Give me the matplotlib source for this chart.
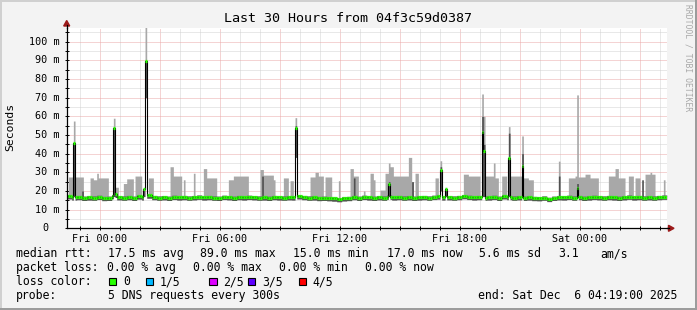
import numpy as np
import matplotlib
matplotlib.use('Agg')
import matplotlib.pyplot as plt
from matplotlib.patches import Rectangle, Polygon
from matplotlib.transforms import offset_copy

plt.rcParams['font.family'] = 'DejaVu Sans Mono'

W, H = 697, 310

# time axis: hours relative to Fri 00:00, 5 minute steps, 22:20 Thu -> 04:20 Sat
T_START = -5.0 / 3.0
T_END = 28.0 + 1.0 / 3.0
STEP = 5.0 / 60.0

# median rtt (ms), one value per 15 minutes
median_15 = [
    17.2, 16.6, 16.8, 16.4, 16.6, 16.5, 16.9, 16.3, 16.4, 17.3, 16.7, 16.5,
    16.8, 16.4, 17.1, 16.6, 17.6, 16.8, 16.5, 16.7, 16.4, 16.9, 16.6, 16.8,
    16.5, 16.7, 17.0, 16.6, 16.8, 16.5, 16.4, 16.9, 16.7, 16.4, 16.8, 16.6,
    16.9, 16.7, 16.5, 16.6, 16.4, 16.8, 16.6, 16.5, 16.7, 16.6, 17.2, 16.8,
    16.5, 16.6, 16.3, 16.4, 16.2, 16.0, 15.7, 16.1, 16.3, 16.8, 16.4, 16.9,
    16.6, 16.4, 16.7, 16.5, 17.0, 16.6, 16.8, 16.5, 16.7, 16.4, 16.6, 16.8,
    16.5, 16.9, 17.1, 16.6, 16.7, 16.5, 16.8, 17.3, 16.9, 16.6, 16.8, 16.5,
    16.6, 16.9, 16.4, 17.2, 16.8, 16.5, 16.7, 16.4, 16.6, 16.3, 16.2, 16.5,
    15.8, 16.4, 16.7, 16.6, 16.9, 16.5, 16.8, 16.4, 16.6, 16.9, 16.7, 16.5,
    16.8, 16.6, 16.4, 16.7, 17.0, 16.6, 16.8, 16.5, 16.7, 16.5, 16.8, 17.0,
]

# smoke (max ping) blocks: start hour, end hour, top ms
smoke_blocks = [
    (-1.65, -1.40, 27.5), (-1.40, -1.30, 25.0), (-1.25, -0.90, 27.5),
    (-0.50, -0.35, 27.0), (-0.35, -0.20, 26.0), (-0.20, -0.10, 29.5),
    (-0.10, 0.40, 27.0), (0.75, 0.85, 22.0), (1.10, 1.30, 24.0),
    (1.30, 1.65, 26.5), (1.70, 2.05, 28.0), (2.40, 2.60, 27.0),
    (3.50, 3.65, 33.0), (3.65, 4.05, 28.0), (4.15, 4.25, 26.0),
    (4.65, 4.75, 29.5), (5.15, 5.30, 32.0), (5.30, 5.80, 27.0),
    (6.35, 6.65, 26.0), (6.65, 7.40, 28.0), (8.00, 8.15, 31.5),
    (8.15, 8.60, 28.5), (8.60, 8.75, 26.0), (9.10, 9.40, 27.0),
    (9.50, 9.60, 25.5), (10.50, 10.75, 27.5), (10.75, 10.90, 30.0),
    (10.90, 11.15, 28.0), (11.25, 11.55, 27.5), (11.85, 11.95, 25.5),
    (12.45, 12.60, 32.0), (12.60, 12.90, 28.0), (13.15, 13.25, 20.0),
    (13.45, 13.60, 29.5), (13.65, 13.75, 26.0), (14.00, 14.20, 20.5),
    (14.20, 14.35, 29.5), (14.35, 14.50, 35.0), (14.50, 14.65, 33.0),
    (14.65, 15.40, 28.0), (15.40, 15.55, 38.0), (15.55, 15.65, 25.0),
    (15.70, 15.85, 29.5), (16.75, 16.85, 27.0), (18.10, 18.40, 29.0),
    (18.40, 18.95, 28.0), (19.25, 19.60, 28.0), (19.60, 19.75, 35.0),
    (19.75, 19.90, 27.0), (20.05, 20.30, 28.0), (20.50, 21.05, 28.0),
    (21.15, 21.35, 27.0), (21.35, 21.60, 26.0), (22.90, 23.00, 36.0),
    (23.35, 23.70, 27.0), (23.70, 23.80, 28.0), (23.90, 24.25, 27.5),
    (24.25, 24.50, 29.0), (24.50, 24.90, 27.0), (25.35, 25.75, 28.0),
    (25.75, 25.90, 32.0), (25.90, 26.20, 27.0), (26.35, 26.65, 28.0),
    (26.75, 27.00, 27.0), (27.10, 27.15, 26.0), (27.25, 27.45, 29.0),
    (27.45, 27.55, 30.0), (27.55, 27.70, 29.0), (28.15, 28.25, 26.0),
]

# darker smoke strokes inside the blocks: hour, top ms
dark_strokes = [
    (-0.95, 20.0), (8.10, 28.0), (12.70, 27.0), (15.60, 25.0),
    (22.92, 28.0), (27.12, 26.0),
]

# spikes: hour, median, smoke top, dark band low, dark band high
spikes = [
    (-1.33, 45.5, 57.5, 17.0, 46.0),
    (0.70, 54.0, 59.0, 17.0, 54.0),
    (0.78, 18.5, 22.0, 16.5, 19.0),
    (2.17, 21.0, 22.0, 17.0, 21.0),
    (2.25, 89.5, 110.0, 70.0, 89.5),
    (9.78, 53.5, 59.3, 38.0, 55.0),
    (14.40, 23.5, 35.0, 17.0, 25.0),
    (17.00, 31.0, 36.2, 20.0, 33.0),
    (17.25, 21.0, 22.0, 17.0, 21.0),
    (19.08, 51.4, 72.0, 17.0, 60.0),
    (19.17, 41.6, 60.0, 17.0, 45.0),
    (20.42, 37.8, 54.5, 17.0, 51.0),
    (21.10, 33.5, 49.5, 17.0, 40.0),
    (23.85, 21.5, 71.5, 17.0, 24.0),
]

xtick_pos = [0, 6, 12, 18, 24]
xtick_lab = ['Fri 00:00', 'Fri 06:00', 'Fri 12:00', 'Fri 18:00', 'Sat 00:00']
ytick_pos = [0, 10, 20, 30, 40, 50, 60, 70, 80, 90, 100]

loss_names = ['0', '1/5', '2/5', '3/5', '4/5']
loss_colors = ['#26ff00', '#00b8ff', '#dd00ff', '#5e00ff', '#ff0000']

# build per-sample series
n = int(round((T_END - T_START) / STEP))
t = T_START + np.arange(n) * STEP
med = np.array([median_15[i // 3] for i in range(n)])
top = med + 0.8
for a, b, v in smoke_blocks:
    m = (t >= a - 1e-6) & (t < b - 1e-6)
    top[m] = np.maximum(top[m], v)
dlo = med - 1.5
dhi = med + 0.8
for h, v in dark_strokes:
    i = int(round((h - T_START) / STEP))
    dhi[i] = v
for h, md, tp, lo, hi in spikes:
    i = int(round((h - T_START) / STEP))
    med[i] = md
    top[i] = tp
    dlo[i] = lo
    dhi[i] = hi

def px(x, y):
    return x / W, 1 - y / H

fig = plt.figure(figsize=(W / 100, H / 100), dpi=100, facecolor='#f3f3f3')
ax = fig.add_axes([66.7 / W, 1 - 228.3 / H, 600 / W, 200 / H])
ax.set_facecolor('white')
ax.set_xlim(T_START, T_END)
ax.set_ylim(0, 107.2)

# grid
for h in range(-1, 29):
    if h % 3 == 0:
        continue
    ax.axvline(h, color='#d2d2d2', lw=0.72, ls=(0, (1, 1)), zorder=0)
for h in range(0, 29, 3):
    ax.axvline(h, color='#eba8a8', lw=0.72, ls=(0, (1, 1)), zorder=0)
for v in range(5, 106, 10):
    ax.axhline(v, color='#d2d2d2', lw=0.72, ls=(0, (1, 1)), zorder=0)
for v in range(10, 106, 10):
    ax.axhline(v, color='#eba8a8', lw=0.72, ls=(0, (1, 1)), zorder=0)

te = np.append(t, t[-1] + STEP)
ax.fill_between(te, np.append(med, med[-1]), np.append(top, top[-1]),
                step='post', color='#a8a8a8', lw=0, zorder=2)
ax.fill_between(te, np.append(dlo, dlo[-1]), np.append(dhi, dhi[-1]),
                step='post', color='#505050', lw=0, zorder=3)
ax.step(te, np.append(med, med[-1]), where='post', color='black', lw=0.8, zorder=4)
ax.hlines(med, t, t + STEP, color=loss_colors[0], lw=2.3, zorder=5, capstyle='butt')

for s in ['top', 'right']:
    ax.spines[s].set_visible(False)
for s in ['left', 'bottom']:
    ax.spines[s].set_color('black')
    ax.spines[s].set_linewidth(0.9)
    ax.spines[s].set_zorder(6)

ax.set_xticks(xtick_pos)
ax.set_xticklabels(xtick_lab, fontsize=7.3)
ax.set_xticks(range(-1, 29), minor=True)
ax.tick_params(axis='x', which='both', direction='inout', length=3, width=0.7, pad=2.5)
ax.set_yticks(ytick_pos)
ax.set_yticklabels([])
ax.set_yticks(range(5, 106, 5), minor=True)
ax.tick_params(axis='y', which='both', direction='inout', length=3, width=0.7)

for v in ytick_pos:
    if v == 0:
        tr = offset_copy(ax.get_yaxis_transform(), fig=fig, x=-18.4, y=0, units='dots')
        lab = '0'
    else:
        tr = offset_copy(ax.get_yaxis_transform(), fig=fig, x=-7.4, y=0, units='dots')
        lab = f'{v} m'
    ax.text(0, v, lab, transform=tr, ha='right', va='center', fontsize=7.3, clip_on=False)

# axis extensions and arrows
fig.add_artist(plt.Line2D([px(666.7, 0)[0], px(669, 0)[0]], [px(0, 228.3)[1]] * 2,
                          color='black', lw=0.9))
fig.add_artist(Polygon([px(668.5, 225.3), px(668.5, 231.3), px(674, 228.3)],
                       closed=True, color='#9c1a1a', transform=fig.transFigure))
fig.add_artist(plt.Line2D([px(66.7, 0)[0]] * 2, [px(0, 28.3)[1], px(0, 25)[1]],
                          color='black', lw=0.9))
fig.add_artist(Polygon([px(63.7, 26), px(69.7, 26), px(66.7, 20.5)],
                       closed=True, color='#9c1a1a', transform=fig.transFigure))

# titles
fig.text(*px(348, 19), 'Last 30 Hours from 04f3c59d0387', ha='center', va='center', fontsize=9.6)
fig.text(*px(10, 127), 'Seconds', rotation=90, ha='center', va='center', fontsize=8.2)
fig.text(*px(688, 58), 'RRDTOOL / TOBI OETIKER', rotation=270, ha='center', va='center',
         fontsize=5.8, color='#a8a8a8')

# legend
fs = 8.3
rows = [257.3, 271.3, 285.3, 299.3]
items = [
    (16, rows[0], 'median rtt:'), (107.7, rows[0], '17.5 ms avg'),
    (200, rows[0], '89.0 ms max'), (293, rows[0], '15.0 ms min'),
    (386.7, rows[0], '17.0 ms now'), (479.3, rows[0], '5.6 ms sd'),
    (558.3, rows[0], '3.1'), (600, rows[0], 'am/s'),
    (16, rows[1], 'packet loss:'), (106.7, rows[1], '0.00 % avg'),
    (193.3, rows[1], '0.00 % max'), (279.3, rows[1], '0.00 % min'),
    (365, rows[1], '0.00 % now'),
    (16, rows[2], 'loss color:'),
    (16, rows[3], 'probe:'), (107.7, rows[3], '5 DNS requests every 300s'),
    (478.3, rows[3], 'end: Sat Dec  6 04:19:00 2025'),
]
for x, y, s in items:
    fig.text(*px(x, y), s, ha='left', va='baseline', fontsize=fs)

box_x = [109, 146, 209.3, 247.5, 298.8]
lab_x = [123.3, 160, 223.3, 262.7, 312.7]
for bx, lx, name, c in zip(box_x, lab_x, loss_names, loss_colors):
    x0, y0 = px(bx, 284.7)
    fig.add_artist(Rectangle((x0, y0), 7.3 / W, 7 / H, facecolor=c, edgecolor='black',
                             lw=0.8, transform=fig.transFigure))
    fig.text(*px(lx, rows[2]), name, ha='left', va='baseline', fontsize=fs)

# outer frame
fig.add_artist(Rectangle((0, 1 - 2 / H), 1, 2 / H, color='#d0d0d0', transform=fig.transFigure, lw=0))
fig.add_artist(Rectangle((0, 0), 2 / W, 1, color='#d0d0d0', transform=fig.transFigure, lw=0))
fig.add_artist(Rectangle((1 - 2 / W, 0), 2 / W, 1, color='#9c9c9c', transform=fig.transFigure, lw=0))
fig.add_artist(Rectangle((0, 0), 1, 2 / H, color='#9c9c9c', transform=fig.transFigure, lw=0))

fig.savefig('out.png', dpi=100, facecolor=fig.get_facecolor())
